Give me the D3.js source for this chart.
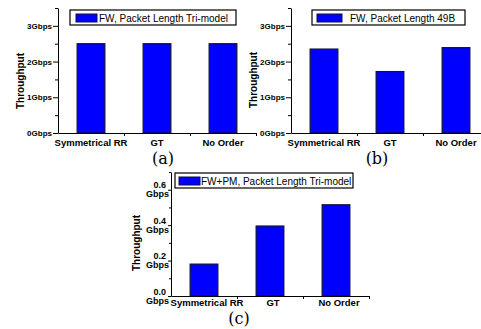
<!DOCTYPE html>
<html>
<head>
<meta charset="utf-8">
<script src="https://cdn.jsdelivr.net/npm/d3@7"></script>
<style>
  body { margin: 0; background: #fff; }
  svg { display: block; font-family: "Liberation Sans", Arial, sans-serif; }
</style>
</head>
<body>
<div id="chart"></div>
<script>
// categories shared by all three panels
var categories = ["Symmetrical RR", "GT", "No Order"];

// throughput values (Gbps)
var throughputA = [2.5, 2.5, 2.5];
var throughputB = [2.35, 1.72, 2.39];
var throughputC = [0.18, 0.395, 0.515];

// legend texts
var legendA = "FW, Packet Length Tri-model";
var legendB = "FW, Packet Length 49B";
var legendC = "FW+PM, Packet Length Tri-model";

// y ticks
var ticksAB = [0, 1, 2, 3];
var minorAB = [0.5, 1.5, 2.5, 3.5];
var ticksC = [0, 0.2, 0.4, 0.6];
var minorC = [0.1, 0.3, 0.5, 0.7];

var width = 481, height = 329;

var svg = d3.select("#chart").append("svg")
    .attr("width", width)
    .attr("height", height);

function drawPanel(p) {
    var g = svg.append("g");

    var x = d3.scaleBand()
        .domain(categories)
        .range([p.left, p.left + 198])
        .paddingInner(0.58)
        .paddingOuter(0.29);

    var y = d3.scaleLinear()
        .domain([0, p.ymax])
        .range([p.bottom, p.top]);

    // bars
    g.selectAll("rect.bar")
        .data(p.values)
        .enter().append("rect")
        .attr("class", "bar")
        .attr("x", function(d, i) { return x(categories[i]); })
        .attr("y", function(d) { return y(d); })
        .attr("width", x.bandwidth())
        .attr("height", function(d) { return y(0) - y(d); })
        .style("fill", "#0000ff")
        .style("stroke", "#10103a")
        .style("stroke-width", 1.2);

    // minor y ticks
    g.append("g")
        .attr("transform", "translate(" + p.left + ",0)")
        .call(d3.axisLeft(y).tickValues(p.minor).tickSize(p.minorSize).tickFormat(""))
        .call(function(a) { a.select(".domain").remove(); });

    // major y axis
    var yAxis = g.append("g")
        .attr("transform", "translate(" + p.left + ",0)")
        .call(d3.axisLeft(y).tickValues(p.ticks).tickSize(p.majorSize).tickSizeOuter(0)
            .tickPadding(1).tickFormat(p.fmt));
    yAxis.selectAll("text")
        .style("font-size", p.tickFont + "px")
        .style("font-weight", "bold")
        .style("fill", "#000");

    if (p.twoLine) {
        yAxis.selectAll(".tick text").each(function(d) {
            var t = d3.select(this);
            t.text(null).attr("dy", null);
            t.append("tspan").attr("x", -5).attr("y", -2).text(d3.format(".1f")(d));
            t.append("tspan").attr("x", -2).attr("y", 7).text("Gbps");
        });
    }

    // x axis: category boundary ticks
    var xi = d3.scaleLinear().domain([0, 3]).range([p.left, p.left + 198]);
    g.append("g")
        .attr("transform", "translate(0," + p.bottom + ")")
        .call(d3.axisBottom(xi).tickValues([1, 2, 3]).tickSize(3).tickSizeOuter(0).tickFormat(""));

    // category labels
    g.selectAll("text.cat")
        .data(categories)
        .enter().append("text")
        .attr("class", "cat")
        .attr("x", function(d) { return x(d) + x.bandwidth() / 2 + p.catShift; })
        .attr("y", p.bottom + p.catDy)
        .attr("text-anchor", "middle")
        .style("font-size", "9.5px")
        .style("font-weight", "bold")
        .text(function(d) { return d; });

    // y title
    g.append("text")
        .attr("transform", "translate(" + p.titleX + "," + p.titleY + ") rotate(-90)")
        .attr("text-anchor", "middle")
        .style("font-size", "10px")
        .style("font-weight", "bold")
        .text("Throughput");

    // legend
    var lg = g.append("g");
    lg.append("rect")
        .attr("x", p.legend.x)
        .attr("y", p.legend.y)
        .attr("width", p.legend.w)
        .attr("height", 15)
        .style("fill", "#fff")
        .style("stroke", "#000")
        .style("stroke-width", 1.2);
    lg.append("rect")
        .attr("x", p.legend.sx)
        .attr("y", p.legend.y + 4)
        .attr("width", p.legend.sw)
        .attr("height", 8)
        .style("fill", "#0000ff")
        .style("stroke", "#10103a");
    lg.append("text")
        .attr("x", p.legend.tx)
        .attr("y", p.legend.y + 11.5)
        .style("font-size", "10px")
        .text(p.legend.text);

    // panel label
    g.append("text")
        .attr("x", p.labelX)
        .attr("y", p.labelY)
        .attr("text-anchor", "middle")
        .style("font-family", "'DejaVu Serif', serif")
        .style("font-size", "16px")
        .text(p.label);
}

var fmtAB = function(d) { return d + "Gbps"; };

drawPanel({
    values: throughputA, left: 58, top: 8, bottom: 133, ymax: 3.5,
    ticks: ticksAB, minor: minorAB, majorSize: 5, minorSize: 3, tickFont: 8, fmt: fmtAB,
    catDy: 12.5, catShift: 0, titleX: 24, titleY: 81,
    legend: { x: 70, y: 10, w: 166, sx: 76, sw: 21, tx: 99, text: legendA },
    label: "(a)", labelX: 163, labelY: 164
});

drawPanel({
    values: throughputB, left: 291, top: 8, bottom: 133, ymax: 3.5,
    ticks: ticksAB, minor: minorAB, majorSize: 5, minorSize: 3, tickFont: 8, fmt: fmtAB,
    catDy: 12.5, catShift: 0, titleX: 257, titleY: 80,
    legend: { x: 312, y: 10, w: 153, sx: 317, sw: 25, tx: 350, text: legendB },
    label: "(b)", labelX: 377, labelY: 164
});

drawPanel({
    values: throughputC, left: 171, top: 172, bottom: 296, ymax: 0.7,
    ticks: ticksC, minor: minorC, majorSize: 3, minorSize: 2, tickFont: 9, fmt: null,
    twoLine: true,
    catDy: 10, catShift: 3, titleX: 140, titleY: 243,
    legend: { x: 175, y: 173, w: 178, sx: 179, sw: 21, tx: 201, text: legendC },
    label: "(c)", labelX: 239, labelY: 324
});
</script>
</body>
</html>
